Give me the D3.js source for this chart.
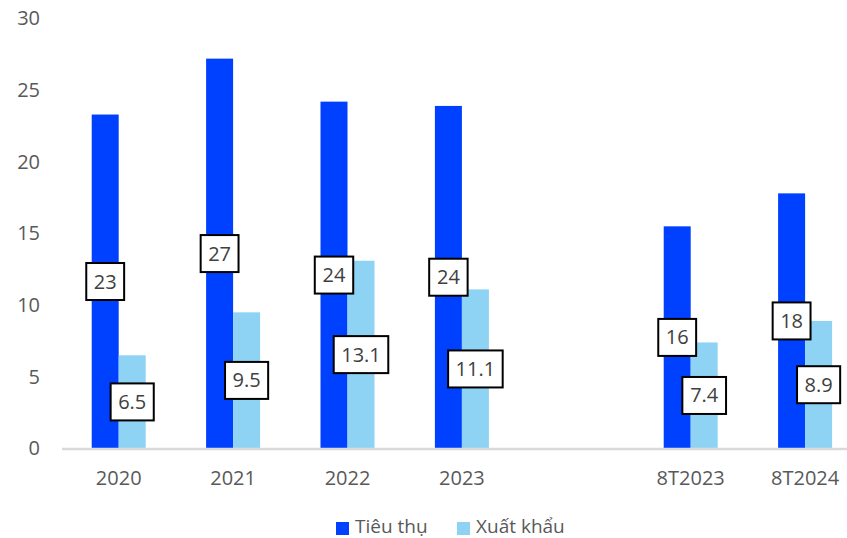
<!DOCTYPE html>
<html><head><meta charset="utf-8">
<script src="https://cdn.jsdelivr.net/npm/d3@7"></script>
<style>body{margin:0;background:#fff;}svg{display:block;font-family:"Open Sans",sans-serif;}</style>
</head><body>
<svg id="c" width="847" height="538"></svg>
<script>
const categories = ["2020","2021","2022","2023","","8T2023","8T2024"];
const seriesNames = ["Tiêu thụ","Xuất khẩu"];
const tieuThu = [23.3, 27.2, 24.2, 23.9, null, 15.5, 17.8];
const tieuThuLabels = ["23","27","24","24",null,"16","18"];
const xuatKhau = [6.5, 9.5, 13.1, 11.1, null, 7.4, 8.9];
const xuatKhauLabels = ["6.5","9.5","13.1","11.1",null,"7.4","8.9"];
const yTicks = [0,5,10,15,20,25,30];
const colors = ["#0041FF","#8FD3F4"];

const svg = d3.select("#c");
const x0 = d3.scaleBand().domain(categories).range([61.5, 862.3]).padding(0);
const bw = x0.bandwidth();
const x1 = d3.scaleBand().domain(seriesNames).range([bw*0.264, bw*0.736]).padding(0);
const y = d3.scaleLinear().domain([0,30]).range([448.5, 18.5]);

// y axis labels
const yAxis = d3.axisLeft(y).tickValues(yTicks).tickSize(0).tickPadding(0);
const gy = svg.append("g").attr("transform","translate(40,0)").call(yAxis);
gy.select(".domain").remove();
gy.selectAll("text").attr("font-size",20).attr("fill","#595959").attr("font-family","Open Sans");

const series = [
  {name: seriesNames[0], values: tieuThu, labels: tieuThuLabels, color: colors[0]},
  {name: seriesNames[1], values: xuatKhau, labels: xuatKhauLabels, color: colors[1]}
];

series.forEach(s => {
  const data = categories.map((c,i)=>({c, v:s.values[i], l:s.labels[i]})).filter(d=>d.v!=null);
  svg.append("g").selectAll("rect").data(data).join("rect")
    .attr("x", d=>x0(d.c)+x1(s.name))
    .attr("width", x1.bandwidth())
    .attr("y", d=>y(d.v))
    .attr("height", d=>y(0)-y(d.v))
    .attr("fill", s.color);
});

// x axis
const xAxis = d3.axisBottom(x0).tickSize(0).tickPadding(0);
const gx = svg.append("g").attr("transform",`translate(0,${y(0)})`).call(xAxis);
gx.select(".domain").attr("stroke","#d9d9d9").attr("stroke-width",2.5);
gx.selectAll("text").attr("font-size",20).attr("fill","#595959").attr("dy","1.8em").attr("font-family","Open Sans");

// data labels
series.forEach(s => {
  const data = categories.map((c,i)=>({c, v:s.values[i], l:s.labels[i]})).filter(d=>d.v!=null);
  const g = svg.append("g").selectAll("g").data(data).join("g")
    .attr("transform", d=>`translate(${x0(d.c)+x1(s.name)+x1.bandwidth()/2},${y(d.v/2)})`);
  g.append("text").text(d=>d.l).attr("text-anchor","middle").attr("dy","0.35em")
    .attr("font-size",20).attr("fill","#404040");
  g.each(function(){
    const txt = d3.select(this).select("text");
    const b = txt.node().getBBox();
    const w = b.width + 15, h = 37;
    d3.select(this).insert("rect","text").attr("x",-w/2).attr("y",-h/2).attr("width",w).attr("height",h)
      .attr("fill","#fff").attr("stroke","#000").attr("stroke-width",2);
  });
});

// legend
const legend = svg.append("g").attr("transform","translate(336,522)");
const items = [{n:seriesNames[0],c:colors[0],x:0},{n:seriesNames[1],c:colors[1],x:121}];
items.forEach(it=>{
  legend.append("rect").attr("x",it.x).attr("y",0).attr("width",13).attr("height",13).attr("fill",it.c);
  legend.append("text").attr("x",it.x+19).attr("y",11).text(it.n)
    .attr("font-size",19).attr("fill","#595959");
});
</script>
</body></html>
